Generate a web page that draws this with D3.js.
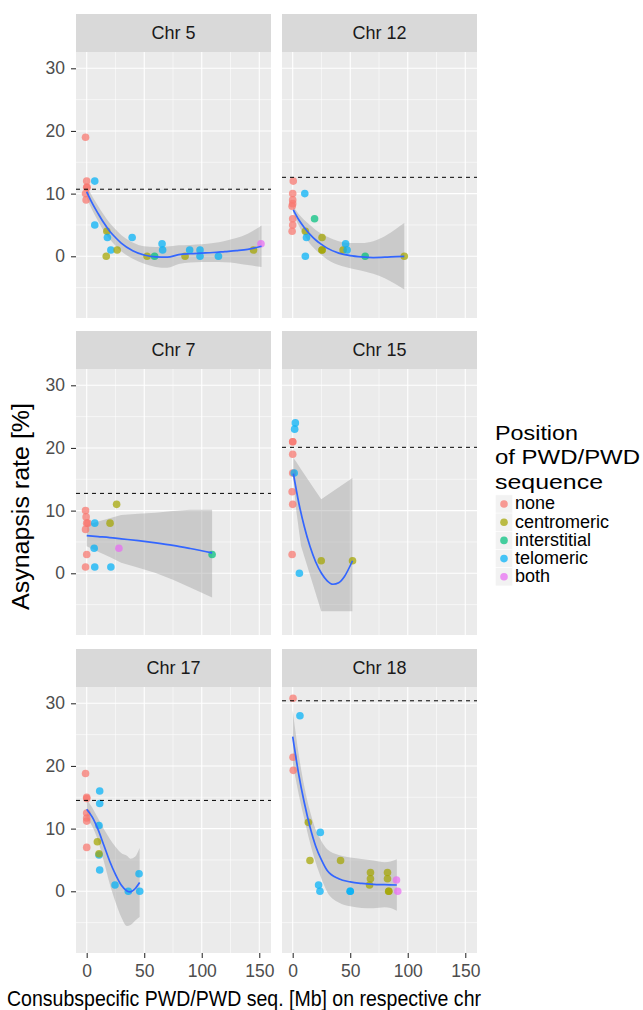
<!DOCTYPE html>
<html><head><meta charset="utf-8">
<script src="https://cdn.jsdelivr.net/npm/d3@7"></script>
<style>body{margin:0;background:#fff;} text{font-family:"Liberation Sans",Arial,Helvetica,sans-serif;}</style>
</head><body><svg id="c" width="643" height="1010"></svg>
<script>
// ---------- data ----------
const panelTitles = ["Chr 5","Chr 12","Chr 7","Chr 15","Chr 17","Chr 18"];
const categories = ["none","centromeric","interstitial","telomeric","both"];
const catColors = ["#F8766D","#A3A500","#00BF7D","#00B0F6","#E76BF3"];
const xTicks = [0,50,100,150];
const xMinor = [25,75,125];
const yTicks = [0,10,20,30];
const yMinor = [-5,5,15,25];
const legendTitle = ["Position","of PWD/PWD","sequence"];

// points: [x (Mb), asynapsis %, position]
const chr5Points = [[-1,19,"none"],[0,12,"none"],[0.3,11,"none"],[0,11,"none"],[-1,10,"none"],[-0.5,9,"none"],
 [7,12,"telomeric"],[7,5,"telomeric"],[17.5,4,"centromeric"],[18,3,"telomeric"],[17,0,"centromeric"],[21,1,"telomeric"],
 [26.5,1,"centromeric"],[39.5,3,"telomeric"],[52.5,0,"centromeric"],[59,0,"interstitial"],[65.5,2,"telomeric"],
 [66,1,"telomeric"],[85.5,0,"centromeric"],[89.5,1,"telomeric"],[98.5,1,"telomeric"],[98.5,0,"telomeric"],
 [114.5,0,"telomeric"],[145,1,"centromeric"],[151.5,2,"both"]];
const chr12Points = [[0.5,12,"none"],[0,10,"none"],[0,9,"none"],[0,8.4,"none"],[-0.5,8,"none"],[0,6,"none"],[0,5,"none"],[-0.5,4,"none"],
 [10.5,10,"telomeric"],[19,6,"interstitial"],[11,4,"centromeric"],[12,3,"telomeric"],[11,0,"telomeric"],
 [25.5,3,"centromeric"],[25.5,1,"centromeric"],[25.5,1,"centromeric"],[43.8,1,"centromeric"],[46,2,"telomeric"],
 [47.3,1,"telomeric"],[63,0,"interstitial"],[97,0,"centromeric"]];
const chr7Points = [[-1,10,"none"],[-0.5,9,"none"],[0,8,"none"],[1,8,"none"],[-1,7,"none"],[0,3,"none"],[-1,1,"none"],
 [7,8,"telomeric"],[6.5,4,"telomeric"],[7,1,"telomeric"],[21,1,"telomeric"],[26,11,"centromeric"],[20.3,8,"centromeric"],
 [28,4,"both"],[109,3,"interstitial"]];
const chr15Points = [[2.3,24,"telomeric"],[1.7,23,"telomeric"],[0,21,"none"],[0,21,"none"],[0,19,"none"],[0,16,"none"],
 [1.3,16,"telomeric"],[-0.5,13,"none"],[0,11,"none"],[-0.5,3,"none"],[5.8,0,"telomeric"],[24.8,2,"centromeric"],[52,2,"centromeric"]];
const chr17Points = [[-1,18.8,"none"],[0,15,"none"],[0,14.8,"none"],[0,12.5,"none"],[0,11.7,"none"],[0,11.2,"none"],[0,7,"none"],
 [11.3,16,"telomeric"],[11.3,14,"telomeric"],[10.7,10.5,"telomeric"],[9.3,7.9,"centromeric"],[10.7,5.8,"telomeric"],
 [10.7,6,"centromeric"],[11.3,3.4,"telomeric"],[24.6,1,"telomeric"],[36.2,0,"telomeric"],[45.5,2.8,"telomeric"],[46.1,0,"telomeric"]];
const chr18Points = [[0.3,30.8,"none"],[6.3,28,"telomeric"],[0.3,21.4,"none"],[0.5,19.3,"none"],[13.6,11,"centromeric"],
 [24,9.4,"telomeric"],[15,4.9,"centromeric"],[41.6,4.9,"centromeric"],[22.5,1,"telomeric"],[23.7,0,"telomeric"],
 [50,0,"telomeric"],[50,0,"telomeric"],[67.6,3,"centromeric"],[67.6,2,"centromeric"],[66.8,1,"centromeric"],
 [82.4,3,"centromeric"],[82.4,2,"centromeric"],[83.5,0,"centromeric"],[83.5,0,"centromeric"],[90.2,1.8,"both"],[91.3,0,"both"]];

// reference (dashed) levels
const refLevels = [10.7, 12.6, 12.75, 20.1, 14.5, 30.4];

// smooth fits: [x, fit]
const chr5Fit = [[0,10.3],[5,8.4],[10,6.8],[15,5.3],[20,4.0],[25,3.0],[30,2.1],[40,0.9],[50,0.2],[60,-0.1],[70,-0.15],[80,0.25],[90,0.4],[100,0.5],[110,0.6],[120,0.75],[130,0.9],[140,1.1],[152,1.6]];
const chr12Fit = [[0.5,7.4],[5,5.9],[10,4.6],[15,3.5],[20,2.6],[25,1.9],[30,1.3],[40,0.5],[50,0.1],[60,-0.1],[70,-0.2],[80,-0.15],[90,-0.05],[97,0]];
const chr7Fit = [[0,6.0],[10,5.85],[20,5.7],[30,5.5],[45,5.2],[60,4.85],[75,4.45],[90,3.95],[109,3.25]];
const chr15Fit = [[0.6,15.9],[5,11.5],[10,7.5],[15,4.3],[20,1.8],[25,0.0],[30,-1.2],[35,-1.75],[40,-1.5],[45,-0.5],[52,2.0]];
const chr17Fit = [[0,13.1],[5,11.8],[10,9.8],[15,7.3],[20,4.8],[25,2.7],[30,1.0],[35,0.05],[38,-0.1],[42,0.4],[46,1.4]];
const chr18Fit = [[0,24.7],[5,18.9],[10,14.2],[15,10.3],[20,7.2],[25,5.0],[30,3.3],[40,2.0],[50,1.5],[60,1.25],[70,1.1],[80,1.05],[90.5,1.0]];

// confidence band: [x, lower, upper]
const chr5Band = [[0,9.3,11.3],[5,7.3,9.5],[10,5.6,8.0],[15,4.0,6.6],[20,2.7,5.3],[25,1.7,4.3],[30,0.8,3.4],[40,-0.4,2.2],[50,-1.2,1.6],[60,-1.7,1.5],[70,-1.85,1.55],[80,-1.25,1.75],[90,-1.0,1.8],[100,-0.9,1.9],[110,-0.9,2.1],[120,-0.95,2.45],[130,-1.1,2.9],[140,-1.4,3.6],[152,-1.7,4.9]];
const chr12Band = [[0.5,6.9,7.9],[5,5.0,6.8],[10,3.4,5.8],[15,2.0,5.0],[20,1.0,4.2],[25,0.2,3.6],[30,-0.5,3.1],[40,-1.4,2.4],[50,-1.9,2.1],[60,-2.3,2.1],[70,-2.8,2.4],[80,-3.5,3.2],[90,-4.5,4.4],[97,-5.3,5.3]];
const chr7Band = [[0,4.3,7.7],[10,3.45,8.25],[20,2.6,8.8],[30,1.7,9.3],[45,0.9,9.5],[60,0.05,9.65],[75,-1.05,9.95],[90,-2.25,10.15],[109,-3.85,10.15]];
const chr15Band = [[0.6,15.0,18.4],[2.6,10.7,17.9],[7.2,4.4,16.6],[24.8,-6.05,11.8],[51.9,-6.05,15.2]];
const chr17Band = [[0,11.5,14.7],[5,10.3,13.3],[10,8.0,11.6],[15,4.7,9.9],[20,1.2,8.4],[25,-1.7,7.1],[30,-4.1,6.1],[35,-5.55,5.65],[38,-5.4,5.2],[42,-4.7,5.5],[46,-4.1,6.9]];
const chr18Band = [[0,20.5,28.9],[5,15.7,22.1],[10,11.6,16.8],[15,7.8,12.8],[20,4.6,9.8],[25,2.0,8.0],[30,-0.1,6.7],[40,-1.8,5.8],[50,-2.4,5.4],[60,-2.65,5.15],[70,-2.7,4.9],[80,-2.55,4.65],[85,-2.65,4.75],[90.5,-3.1,5.1]];

// ---------- layout ----------
const pointsList = [chr5Points, chr12Points, chr7Points, chr15Points, chr17Points, chr18Points];
const fitList = [chr5Fit, chr12Fit, chr7Fit, chr15Fit, chr17Fit, chr18Fit];
const bandList = [chr5Band, chr12Band, chr7Band, chr15Band, chr17Band, chr18Band];
const smoothBand = [true, true, false, false, true, true];

const colX = [76, 282];
const stripTop = [14, 331, 649];
const stripH = 38, panelW = 195, panelH = 266;

const color = d3.scaleOrdinal().domain(categories).range(catColors);
const x = d3.scaleLinear().domain([-9.3, 160.2]).range([0, panelW]);
const y = d3.scaleLinear().domain([-9.85, 32.6]).range([panelH, 0]);

const svg = d3.select("#c");
svg.append("rect").attr("width",643).attr("height",1010).attr("fill","#fff");

panelTitles.forEach((title, i) => {
  const r = Math.floor(i/2), c = i % 2;
  const gx = colX[c], gy = stripTop[r];
  const strip = svg.append("g").attr("transform",`translate(${gx},${gy})`);
  strip.append("rect").attr("width",panelW).attr("height",stripH).attr("fill","#d9d9d9");
  strip.append("text").attr("x",panelW/2).attr("y",stripH/2+6.3).attr("text-anchor","middle")
    .attr("font-size","18px").attr("fill","#1a1a1a").text(title);

  const g = svg.append("g").attr("transform",`translate(${gx},${gy+stripH})`);
  g.append("rect").attr("width",panelW).attr("height",panelH).attr("fill","#ebebeb");
  // minor grid
  g.selectAll(".mx").data(xMinor).join("line").attr("x1",d=>x(d)).attr("x2",d=>x(d)).attr("y1",0).attr("y2",panelH)
    .attr("stroke","#fff").attr("stroke-width",0.55);
  g.selectAll(".my").data(yMinor).join("line").attr("y1",d=>y(d)).attr("y2",d=>y(d)).attr("x1",0).attr("x2",panelW)
    .attr("stroke","#fff").attr("stroke-width",0.55);
  // major grid
  g.selectAll(".Mx").data(xTicks).join("line").attr("x1",d=>x(d)).attr("x2",d=>x(d)).attr("y1",0).attr("y2",panelH)
    .attr("stroke","#fff").attr("stroke-width",1.1);
  g.selectAll(".My").data(yTicks).join("line").attr("y1",d=>y(d)).attr("y2",d=>y(d)).attr("x1",0).attr("x2",panelW)
    .attr("stroke","#fff").attr("stroke-width",1.1);

  // band
  const area = d3.area().x(d=>x(d[0])).y0(d=>y(d[1])).y1(d=>y(d[2]))
    .curve(smoothBand[i] ? d3.curveMonotoneX : d3.curveLinear);
  g.append("path").datum(bandList[i]).attr("d",area).attr("fill","#999999").attr("fill-opacity",0.4);

  // points
  g.selectAll("circle").data(pointsList[i]).join("circle")
    .attr("cx",d=>x(d[0])).attr("cy",d=>y(d[1])).attr("r",3.8)
    .attr("fill",d=>color(d[2])).attr("fill-opacity",0.72);

  // fit
  const line = d3.line().x(d=>x(d[0])).y(d=>y(d[1])).curve(d3.curveMonotoneX);
  g.append("path").datum(fitList[i]).attr("d",line).attr("fill","none").attr("stroke","#3366FF").attr("stroke-width",1.7);

  // dashed reference
  g.append("line").attr("x1",0).attr("x2",panelW).attr("y1",y(refLevels[i])).attr("y2",y(refLevels[i]))
    .attr("stroke","#000").attr("stroke-width",1).attr("stroke-dasharray","4,4");

  // axes
  if (c === 0) {
    const ax = g.append("g").call(d3.axisLeft(y).tickValues(yTicks).tickSize(5).tickPadding(6).tickFormat(d3.format("d")));
    ax.select(".domain").remove();
    ax.selectAll("line").attr("stroke","#333333").attr("stroke-width",1.1);
    ax.selectAll("text").attr("font-size","17.5px").attr("fill","#4d4d4d").attr("font-family","Liberation Sans, Arial, sans-serif");
  }
  if (r === 2) {
    const ax = g.append("g").attr("transform",`translate(0,${panelH})`)
      .call(d3.axisBottom(x).tickValues(xTicks).tickSize(5).tickPadding(7).tickFormat(d3.format("d")));
    ax.select(".domain").remove();
    ax.selectAll("line").attr("stroke","#333333").attr("stroke-width",1.1);
    ax.selectAll("text").attr("font-size","17.5px").attr("fill","#4d4d4d").attr("font-family","Liberation Sans, Arial, sans-serif");
  }
});

// axis titles
svg.append("text").attr("transform","translate(29,506.5) rotate(-90)").attr("text-anchor","middle")
  .attr("font-size","23px").attr("fill","#000").attr("textLength",207).attr("lengthAdjust","spacingAndGlyphs")
  .text("Asynapsis rate [%]");
svg.append("text").attr("x",7).attr("y",1006).attr("font-size","22.5px").attr("fill","#000")
  .attr("textLength",474).attr("lengthAdjust","spacingAndGlyphs")
  .text("Consubspecific PWD/PWD seq. [Mb] on respective chr");

// legend
const lg = svg.append("g");
const titleY = [439.5, 464.3, 489];
const titleW = [83, 145, 108];
legendTitle.forEach((t,k) => {
  lg.append("text").attr("x",495).attr("y",titleY[k]).attr("font-size","21px").attr("fill","#000")
    .attr("textLength",titleW[k]).attr("lengthAdjust","spacingAndGlyphs").text(t);
});
const itemY = [504, 522.2, 540.4, 558.6, 576.8];
categories.forEach((cat,k) => {
  lg.append("rect").attr("x",495.4).attr("y",itemY[k]-9.1).attr("width",17.2).attr("height",18.2)
    .attr("fill","#f2f2f2").attr("stroke","#fff").attr("stroke-width",0.5);
  lg.append("circle").attr("cx",504).attr("cy",itemY[k]).attr("r",3.8).attr("fill",color(cat)).attr("fill-opacity",0.72);
  lg.append("text").attr("x",515).attr("y",itemY[k]+5.3).attr("font-size","18px").attr("fill","#000").text(cat);
});
</script></body></html>
